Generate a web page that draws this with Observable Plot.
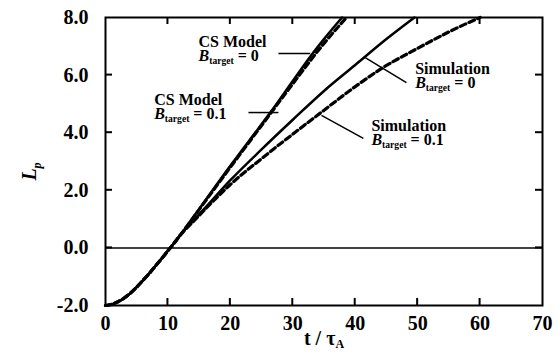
<!DOCTYPE html>
<html><head><meta charset="utf-8">
<script src="https://cdn.jsdelivr.net/npm/d3@7"></script>
<script src="https://cdn.jsdelivr.net/npm/@observablehq/plot@0.6"></script>
<style>body{margin:0;background:#fff} #chart svg{display:block}</style>
</head><body><div id="chart"></div>
<script>
// Tick values
const xTicks = [0, 10, 20, 30, 40, 50, 60, 70];
const yTicks = [-2, 0, 2, 4, 6, 8];

// Shared early growth (all four curves coincide)
const early_t = [0, 1, 2, 3, 4, 5, 6, 7, 8, 9, 10, 11, 12];
const early_L = [-2, -1.96, -1.87, -1.74, -1.57, -1.36, -1.13, -0.89, -0.63, -0.37, -0.1, 0.17, 0.45];

// CS Model, B_target = 0 (solid)
const csB0_t = [13, 15, 20, 24.5, 26.4, 30, 33, 35, 37.9];
const csB0_L = [0.75, 1.35, 2.85, 4.15, 4.7, 5.8, 6.7, 7.25, 8.0];
// CS Model, B_target = 0.1 (dashed)
const csB01_t = [13, 15, 20, 25, 30, 35, 38.6];
const csB01_L = [0.74, 1.33, 2.8, 4.25, 5.7, 7.1, 8.0];
// Simulation, B_target = 0 (solid)
const simB0_t = [14, 16, 20, 25, 30, 35, 40, 45, 49.5];
const simB0_L = [0.93, 1.4, 2.35, 3.42, 4.45, 5.45, 6.35, 7.25, 8.0];
// Simulation, B_target = 0.1 (dashed)
const simB01_t = [14, 16, 20, 25, 30, 34.4, 40, 44, 50, 55, 60];
const simB01_L = [0.9, 1.35, 2.2, 3.1, 3.95, 4.68, 5.6, 6.2, 6.93, 7.5, 8.0];

// Annotations
const annoText = ["CS Model\nB_{target} = 0", "CS Model\nB_{target} = 0.1", "Simulation\nB_{target} = 0", "Simulation\nB_{target} = 0.1"];
const annoT = [14.9, 7.8, 49.6, 42.6];
const annoL = [6.89, 4.88, 5.95, 3.97];
const leadT1 = [27.7, 22.9, 41.6, 34.6];
const leadL1 = [6.75, 4.7, 6.61, 4.6];
const leadT2 = [32.8, 27.7, 48.2, 41.3];
const leadL2 = [6.75, 4.7, 5.74, 3.8];

function rows(name, t, L) {
  const tt = early_t.concat(t), LL = early_L.concat(L);
  return tt.map((v, i) => ({series: name, t: v, L: LL[i]}));
}
const solidRows = [...rows("CS B=0", csB0_t, csB0_L), ...rows("Sim B=0", simB0_t, simB0_L)];
const dashedRows = [...rows("CS B=0.1", csB01_t, csB01_L), ...rows("Sim B=0.1", simB01_t, simB01_L)];
const annoRows = annoText.map((s, i) => ({text: s, t: annoT[i], L: annoL[i]}));
const leadRows = leadT1.map((v, i) => ({t1: v, L1: leadL1[i], t2: leadT2[i], L2: leadL2[i]}));

const font = "'Liberation Serif', 'Times New Roman', serif";
const inner = a => a.slice(1, -1);
const xMin = xTicks[0], xMax = xTicks[xTicks.length - 1];
const yMin = yTicks[0], yMax = yTicks[yTicks.length - 1];

const plot = Plot.plot({
  width: 558, height: 352,
  marginLeft: 105, marginRight: 16, marginTop: 17, marginBottom: 47,
  style: {fontFamily: font, fontWeight: "bold", background: "white", color: "black"},
  x: {domain: [xMin, xMax]},
  y: {domain: [yMin, yMax]},
  marks: [
    Plot.ruleY([0], {stroke: "black", strokeWidth: 1.5}),
    Plot.line(solidRows, {x: "t", y: "L", z: "series", stroke: "black", strokeWidth: 2.5, curve: "monotone-x"}),
    Plot.line(dashedRows, {x: "t", y: "L", z: "series", stroke: "black", strokeWidth: 3.2, curve: "monotone-x", className: "dashed"}),
    Plot.frame({stroke: "black", strokeWidth: 2}),
    Plot.axisX(xTicks, {anchor: "bottom", tickSize: 0, tickPadding: 10, fontSize: 20, tickFormat: d => String(d),
      label: "t / τ_{A}", labelAnchor: "center", labelOffset: 39, labelArrow: "none"}),
    Plot.axisY(yTicks, {anchor: "left", tickSize: 0, tickPadding: 17, fontSize: 20, tickFormat: d => d.toFixed(1),
      label: "L_{p}", labelAnchor: "center", labelOffset: 84, labelArrow: "none"}),
    Plot.link(leadRows, {x1: "t1", y1: "L1", x2: "t2", y2: "L2", stroke: "black", strokeWidth: 1.5}),
    Plot.text(annoRows, {x: "t", y: "L", text: "text", textAnchor: "start", lineAnchor: "middle", fontSize: 16, lineHeight: 0.86})
  ]
});

plot.querySelectorAll(".dashed path").forEach(p => p.setAttribute("stroke-dasharray", "6,3.5"));

// Inward tick marks on all four sides, positioned with the plot's own scales
const sx = plot.scale("x"), sy = plot.scale("y");
const TL = 7, TW = 2;
const tg = d3.select(plot).append("g").attr("class", "inward-ticks").attr("fill", "black");
for (const v of inner(xTicks)) {
  const px = sx.apply(v), y0 = sy.apply(yMin), y1 = sy.apply(yMax);
  tg.append("rect").attr("x", px - TW / 2).attr("width", TW).attr("y", y0 - TL).attr("height", TL);
  tg.append("rect").attr("x", px - TW / 2).attr("width", TW).attr("y", y1).attr("height", TL);
}
for (const v of inner(yTicks)) {
  const py = sy.apply(v), x0 = sx.apply(xMin), x1 = sx.apply(xMax);
  tg.append("rect").attr("y", py - TW / 2).attr("height", TW).attr("x", x0).attr("width", TL);
  tg.append("rect").attr("y", py - TW / 2).attr("height", TW).attr("x", x1 - TL).attr("width", TL);
}

const ns = "http://www.w3.org/2000/svg";
function richify(el) {
  const s = el.textContent;
  const m = s.match(/^(.*?)_\{(.*?)\}(.*)$/);
  if (!m) return;
  const [, pre, sub, post] = m;
  while (el.firstChild) el.removeChild(el.firstChild);
  const italic = /^[A-Z]$/.test(pre);
  const shift = pre === "L" ? 5 : 3;
  const t1 = document.createElementNS(ns, "tspan");
  t1.textContent = pre;
  if (italic) t1.setAttribute("font-style", "italic");
  el.appendChild(t1);
  const t2 = document.createElementNS(ns, "tspan");
  t2.textContent = sub;
  t2.setAttribute("font-size", "0.6em");
  t2.setAttribute("dy", shift);
  if (pre === "L") t2.setAttribute("font-style", "italic");
  el.appendChild(t2);
  if (post) {
    const t3 = document.createElementNS(ns, "tspan");
    t3.textContent = post;
    t3.setAttribute("dy", -shift);
    el.appendChild(t3);
  }
}
plot.querySelectorAll("text").forEach(el => {
  const spans = el.querySelectorAll(":scope > tspan");
  if (spans.length) spans.forEach(richify); else richify(el);
});
const yLab = plot.querySelector('g[aria-label="y-axis label"]');
if (yLab) yLab.setAttribute("transform", "translate(0,10) " + (yLab.getAttribute("transform") || ""));
document.getElementById("chart").appendChild(plot);
</script>
</body></html>
